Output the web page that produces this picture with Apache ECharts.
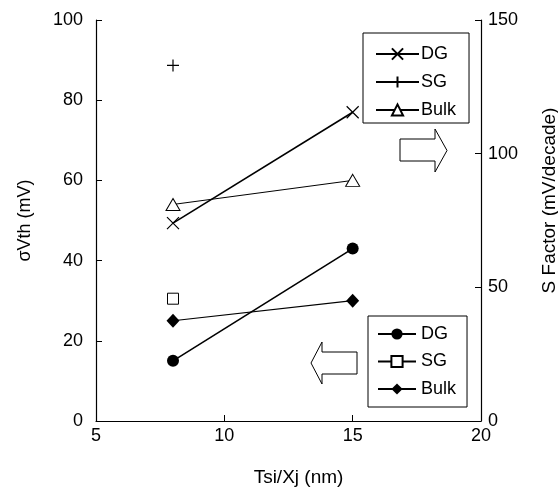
<!DOCTYPE html>
<html>
<head>
<meta charset="utf-8">
<title>sigma Vth / S factor</title>
<script src="https://cdn.jsdelivr.net/npm/echarts@6/dist/echarts.min.js"></script>
<style>
  html, body { margin: 0; padding: 0; background: #fff; }
  #main { width: 558px; height: 493px; }
</style>
</head>
<body>
<div id="main"></div>
<script>
// Tsi/Xj (nm)
var xDG = [8, 15];
var xSG = [8];
var xBulk = [8, 15];

// sigma Vth (mV), left axis, filled / open markers
var vthDG = [15, 43];
var vthSG = [30.5];
var vthBulk = [25, 30];

// S factor (mV/decade), right axis
var sDG = [74, 115.5];
var sSG = [133];
var sBulk = [81, 90];

var xTicks = [5, 10, 15, 20];

function pairs(xs, ys) {
  var out = [];
  for (var i = 0; i < xs.length; i++) out.push([xs[i], ys[i]]);
  return out;
}

var font = 'Liberation Sans, Arial, sans-serif';
var black = '#000';

var crossPath = 'path://M0,0L10,10M10,0L0,10';
var plusPath = 'path://M5,0L5,10M0,5L10,5';

var chart = echarts.init(document.getElementById('main'));

chart.setOption({
  backgroundColor: '#fff',
  animation: false,
  textStyle: { fontFamily: font, color: black },
  grid: { left: 96, right: 77, top: 20, bottom: 72, outerBoundsMode: 'none', containLabel: false },
  xAxis: {
    type: 'value',
    min: xTicks[0],
    max: xTicks[xTicks.length - 1],
    interval: 5,
    name: 'Tsi/Xj (nm)',
    nameLocation: 'middle',
    nameGap: 47,
    nameTextStyle: { fontSize: 19, color: black, fontFamily: font, padding: [0, 0, 0, 20] },
    axisLine: { lineStyle: { color: black, width: 1.2 } },
    axisTick: { inside: true, length: 6, lineStyle: { color: black } },
    axisLabel: { fontSize: 18, color: black, margin: 6, fontFamily: font },
    splitLine: { show: false }
  },
  yAxis: [{
    type: 'value',
    min: 0, max: 100, interval: 20,
    name: 'σVth (mV)',
    nameLocation: 'middle',
    nameRotate: 90,
    nameGap: 62,
    nameTextStyle: { fontSize: 18, color: black, fontFamily: font },
    axisLine: { show: true, lineStyle: { color: black, width: 1.2 } },
    axisTick: { show: true, inside: true, length: 6, lineStyle: { color: black } },
    axisLabel: { fontSize: 18, color: black, margin: 13, fontFamily: font },
    splitLine: { show: false }
  }, {
    type: 'value',
    position: 'right',
    min: 0, max: 150, interval: 50,
    name: 'S Factor (mV/decade)',
    nameLocation: 'middle',
    nameRotate: 90,
    nameGap: 59,
    nameTextStyle: { fontSize: 19, color: black, fontFamily: font, padding: [0, 0, 0, 40] },
    axisLine: { show: true, lineStyle: { color: black, width: 1.2 } },
    axisTick: { show: true, inside: true, length: 6, lineStyle: { color: black } },
    axisLabel: { fontSize: 18, color: black, margin: 7, fontFamily: font },
    splitLine: { show: false }
  }],
  legend: [{
    // S factor legend (top right)
    data: ['DG_s', 'SG_s', 'Bulk_s'],
    orient: 'vertical',
    left: 363,
    top: 33,
    itemWidth: 43,
    itemHeight: 14,
    itemGap: 10,
    padding: [12, 13, 4, 12],
    borderColor: black,
    borderWidth: 1,
    selectedMode: false,
    formatter: function (n) { return n.split('_')[0]; },
    textStyle: { fontSize: 18, color: black, fontFamily: font, padding: [0, 0, 0, -3] }
  }, {
    // sigma Vth legend (bottom right)
    data: ['DG_v', 'SG_v', 'Bulk_v'],
    orient: 'vertical',
    left: 368,
    top: 316,
    itemWidth: 38,
    itemHeight: 14,
    itemGap: 9.5,
    padding: [9, 11, 9, 9],
    borderColor: black,
    borderWidth: 1,
    selectedMode: false,
    formatter: function (n) { return n.split('_')[0]; },
    textStyle: { fontSize: 18, color: black, fontFamily: font }
  }],
  series: [
    {
      name: 'DG_v', type: 'line', yAxisIndex: 0,
      data: pairs(xDG, vthDG),
      symbol: 'circle', symbolSize: 12,
      itemStyle: { color: black },
      lineStyle: { color: black, width: 1.6 }
    },
    {
      name: 'SG_v', type: 'line', yAxisIndex: 0,
      data: pairs(xSG, vthSG),
      symbol: 'rect', symbolSize: 11,
      itemStyle: { color: '#fff', borderColor: black, borderWidth: 1 },
      lineStyle: { color: black, width: 1 }
    },
    {
      name: 'Bulk_v', type: 'line', yAxisIndex: 0,
      data: pairs(xBulk, vthBulk),
      symbol: 'diamond', symbolSize: [13, 14],
      itemStyle: { color: black },
      lineStyle: { color: black, width: 1.2 }
    },
    {
      name: 'DG_s', type: 'line', yAxisIndex: 1,
      data: pairs(xDG, sDG),
      symbol: crossPath, symbolSize: 12,
      itemStyle: { color: black, borderColor: black, borderWidth: 1.2 },
      lineStyle: { color: black, width: 1.6 }
    },
    {
      name: 'SG_s', type: 'line', yAxisIndex: 1,
      data: pairs(xSG, sSG),
      symbol: plusPath, symbolSize: 12,
      itemStyle: { color: black, borderColor: black, borderWidth: 1.2 },
      lineStyle: { color: black, width: 1 }
    },
    {
      name: 'Bulk_s', type: 'line', yAxisIndex: 1,
      data: pairs(xBulk, sBulk),
      symbol: 'triangle', symbolSize: [14, 12],
      itemStyle: { color: '#fff', borderColor: black, borderWidth: 1 },
      lineStyle: { color: black, width: 1 }
    }
  ],
  graphic: [{
    // arrow pointing to the right axis
    type: 'polygon',
    shape: { points: [[400, 139], [435, 139], [435, 129], [447, 150.5], [435, 172], [435, 161], [400, 161]] },
    style: { fill: '#fff', stroke: black, lineWidth: 1 }
  }, {
    // arrow pointing to the left axis
    type: 'polygon',
    shape: { points: [[357, 352], [322, 352], [322, 342], [311, 363], [322, 384], [322, 374], [357, 374]] },
    style: { fill: '#fff', stroke: black, lineWidth: 1 }
  }]
});
</script>
</body>
</html>
